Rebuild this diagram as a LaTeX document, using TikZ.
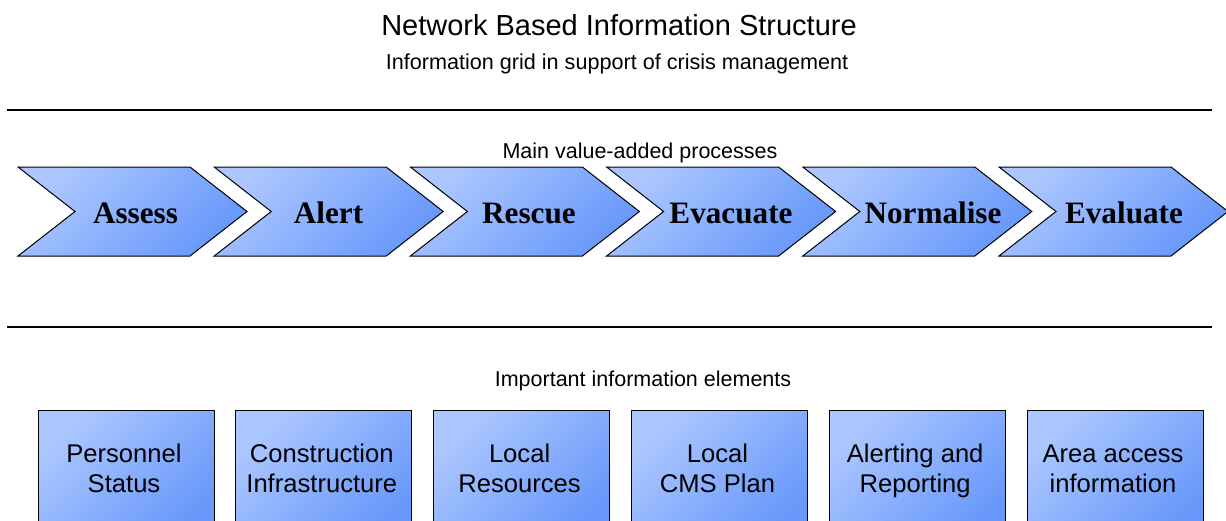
\documentclass[tikz,border=0pt]{standalone}
\usepackage{fontspec}
\setmainfont{Liberation Sans}
\newfontfamily\chevfont{Liberation Serif}
\begin{document}
\begin{tikzpicture}[x=1pt,y=-1pt,
  fillgrad/.style={shading=axis, top color=boxlight, bottom color=boxdark, shading angle=45},
  chevshape/.style={fillgrad, draw=black, line width=1pt, line join=miter},
  chevtext/.style={anchor=base, font=\chevfont\bfseries\fontsize{31.2}{36}\selectfont, inner sep=0pt},
  infobox/.style={fillgrad, draw=black, line width=1pt},
  boxtext/.style={anchor=base, font=\fontsize{25.6}{30}\selectfont, inner sep=0pt},
  rule/.style={line width=1.4pt},
  label/.style={anchor=base, inner sep=0pt}
]
\definecolor{boxlight}{RGB}{172,199,255}
\definecolor{boxdark}{RGB}{104,152,250}
\clip (0,0) rectangle (1226,520);
\fill[white] (0,0) rectangle (1226,520);

\node[label, font=\fontsize{29}{34}\selectfont] (title) at (619,35) {Network Based Information Structure};
\node[label, font=\fontsize{21.6}{25}\selectfont] (subtitle) at (617,69) {Information grid in support of crisis management};

\coordinate (r1a) at (7,110);
\coordinate (r1b) at (1212,110);
\draw[rule] (r1a) -- (r1b);
\coordinate (r2a) at (7,327);
\coordinate (r2b) at (1212,327);
\draw[rule] (r2a) -- (r2b);

\node[label, font=\fontsize{21.5}{25}\selectfont] (mainlbl) at (640,158) {Main value-added processes};
\node[label, font=\fontsize{21.5}{25}\selectfont] (implbl) at (643,386) {Important information elements};

% chevrons
\foreach \i/\txt/\cx in {0/Assess/135.5, 1/Alert/328.5, 2/Rescue/529, 3/Evacuate/731, 4/Normalise/933, 5/Evaluate/1124}{
  \pgfmathsetmacro{\L}{18+196.2*\i}
  \draw[chevshape] (\L,167) -- (\L+172,167) -- (\L+229,211.5) -- (\L+172,256) -- (\L,256) -- (\L+57,211.5) -- cycle;
  \node[chevtext] (chev\i) at (\cx,223) {\txt};
}

% information boxes
\foreach \i/\la/\lb in {0/Personnel/Status, 1/Construction/Infrastructure, 2/Local/Resources, 3/Local/CMS Plan, 4/Alerting and/Reporting, 5/Area access/information}{
  \pgfmathsetmacro{\X}{38+197.8*\i}
  \draw[infobox] (\X,410) rectangle (\X+176,540);
  \node[boxtext] (boxa\i) at (\X+86,462) {\la};
  \node[boxtext] (boxb\i) at (\X+86,492) {\lb};
}
\end{tikzpicture}
\end{document}
